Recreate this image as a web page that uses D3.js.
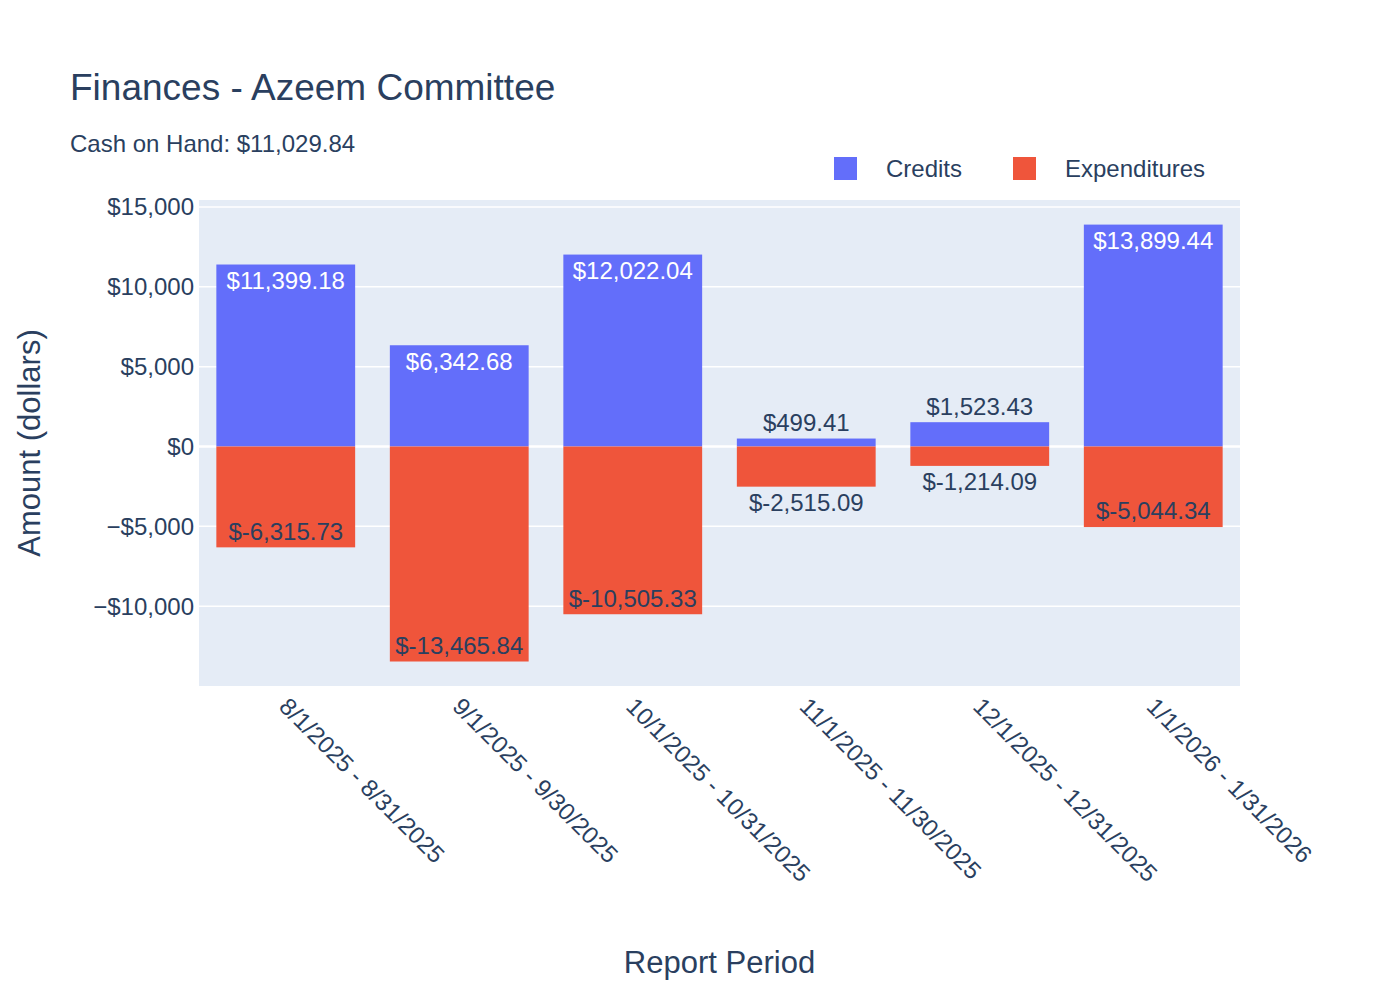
<!DOCTYPE html>
<html>
<head>
<meta charset="utf-8">
<script src="https://cdn.jsdelivr.net/npm/d3@7"></script>
<style>
  body { margin: 0; background: #fff; }
  text { font-family: "Liberation Sans", Arial, sans-serif; }
</style>
</head>
<body>
<div id="chart"></div>
<script>
const periods = ["8/1/2025 - 8/31/2025", "9/1/2025 - 9/30/2025", "10/1/2025 - 10/31/2025",
  "11/1/2025 - 11/30/2025", "12/1/2025 - 12/31/2025", "1/1/2026 - 1/31/2026"];
const credits = [11399.18, 6342.68, 12022.04, 499.41, 1523.43, 13899.44];
const expenditures = [-6315.73, -13465.84, -10505.33, -2515.09, -1214.09, -5044.34];
const yTicks = [-10000, -5000, 0, 5000, 10000, 15000];

const width = 1400, height = 1000;
const margin = { top: 200, right: 160, bottom: 314, left: 199 };
const ink = "#2a3f5f";

const svg = d3.select("#chart").append("svg")
  .attr("width", width).attr("height", height);

const x = d3.scaleBand().domain(periods)
  .range([margin.left, width - margin.right]).paddingInner(0.2).paddingOuter(0.1);
const y = d3.scaleLinear().domain([-15000, 15440])
  .range([height - margin.bottom, margin.top]);

svg.append("rect")
  .attr("x", margin.left).attr("y", margin.top)
  .attr("width", width - margin.left - margin.right)
  .attr("height", height - margin.top - margin.bottom)
  .attr("fill", "#e5ecf6");

// grid
svg.selectAll(".grid").data(yTicks).join("line")
  .attr("x1", margin.left).attr("x2", width - margin.right)
  .attr("y1", d => y(d)).attr("y2", d => y(d))
  .attr("stroke", "#fff").attr("stroke-width", d => d === 0 ? 2.5 : 1.5);

const fmt = d3.format(",.2f");
const money = v => v < 0 ? "$-" + fmt(-v) : "$" + fmt(v);
const tickFmt = v => (v < 0 ? "\u2212$" : "$") + d3.format(",")(Math.abs(v));

svg.selectAll(".ytick").data(yTicks).join("text")
  .attr("x", margin.left - 5).attr("y", d => y(d)).attr("dy", "0.35em")
  .attr("text-anchor", "end").attr("font-size", 24).attr("fill", ink)
  .text(tickFmt);

const series = [
  { name: "Credits", values: credits, color: "#636efa", inText: "#ffffff" },
  { name: "Expenditures", values: expenditures, color: "#ef553b", inText: ink },
];

const fs = 24, pad = 6;
series.forEach(s => {
  s.values.forEach((v, i) => {
    const bx = x(periods[i]), bw = x.bandwidth();
    const y0 = y(0), y1 = y(v);
    const top = Math.min(y0, y1), bh = Math.abs(y1 - y0);
    svg.append("rect").attr("x", bx).attr("y", top)
      .attr("width", bw).attr("height", bh).attr("fill", s.color);

    const t = svg.append("text").attr("font-size", fs).text(money(v));
    const tw = t.node().getComputedTextLength();
    const cx = bx + bw / 2;
    if (bh > 60) {
      const sH = Math.min(1, (bw - pad) / tw, (bh - pad) / fs);
      const sR = Math.min(1, (bh - pad) / tw, (bw - pad) / fs);
      const rot = sR > sH;
      const sc = rot ? sR : sH;
      const ext = (rot ? tw : fs) * sc;
      // anchor at the outer end of the bar
      const cy = v > 0 ? top + 4 + ext / 2 : top + bh - 4 - ext / 2;
      t.attr("fill", s.inText).attr("text-anchor", "middle").attr("dy", "0.35em")
        .attr("transform", `translate(${cx},${cy}) rotate(${rot ? 90 : 0}) scale(${sc})`);
    } else {
      const cy = v > 0 ? top - 4 - fs / 2 : top + bh + 4 + fs / 2;
      t.attr("fill", ink).attr("text-anchor", "middle").attr("dy", "0.35em")
        .attr("transform", `translate(${cx},${cy})`);
    }
  });
});

// x tick labels
svg.selectAll(".xtick").data(periods).join("text")
  .attr("font-size", 24).attr("fill", ink)
  .attr("transform", d => `translate(${x(d) + x.bandwidth() / 2 - 8},${height - margin.bottom + 22}) rotate(45)`)
  .text(d => d);

// axis titles
svg.append("text").attr("x", (margin.left + width - margin.right) / 2).attr("y", 973)
  .attr("text-anchor", "middle").attr("font-size", 31).attr("fill", ink).text("Report Period");
svg.append("text").attr("transform", `translate(40,${(margin.top + height - margin.bottom) / 2}) rotate(-90)`)
  .attr("text-anchor", "middle").attr("font-size", 31).attr("fill", ink).text("Amount (dollars)");

// title
svg.append("text").attr("x", 70).attr("y", 100).attr("font-size", 37).attr("fill", ink)
  .text("Finances - Azeem Committee");
svg.append("text").attr("x", 70).attr("y", 152).attr("font-size", 24).attr("fill", ink)
  .text("Cash on Hand: $11,029.84");

// legend
const legendX = [834, 1013];
series.forEach((s, i) => {
  svg.append("rect").attr("x", legendX[i]).attr("y", 157).attr("width", 23).attr("height", 23)
    .attr("fill", s.color);
  svg.append("text").attr("x", legendX[i] + 52).attr("y", 177).attr("font-size", 24)
    .attr("fill", ink).text(s.name);
});
</script>
</body>
</html>
